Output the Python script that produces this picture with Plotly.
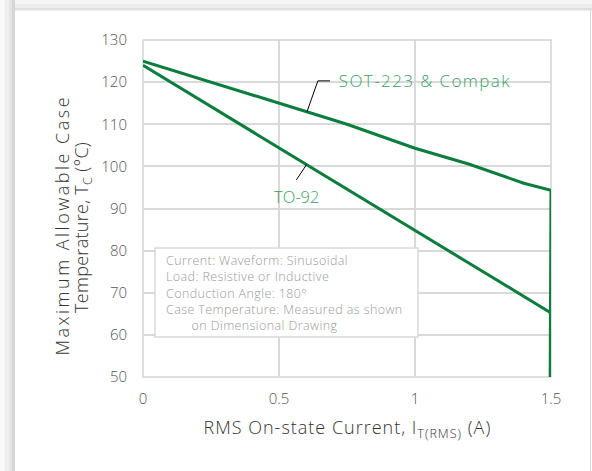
import plotly.graph_objects as go

# Data
sot_x = [0, 0.25, 0.5, 0.75, 1.0, 1.2, 1.4, 1.5, 1.497]
sot_y = [125, 120, 115.1, 110, 104.3, 100.5, 96, 94.3, 50]
to92_x = [0, 1.5, 1.499]
to92_y = [124, 65.2, 50]
x_ticks = [0, 0.5, 1, 1.5]
x_tick_labels = ["0", "0.5", "1", "1.5"]
y_ticks = [50, 60, 70, 80, 90, 100, 110, 120, 130]
notes = ["Current: Waveform: Sinusoidal", "Load: Resistive or Inductive",
         "Conduction Angle: 180°", "Case Temperature: Measured as shown",
         "\u00a0\u00a0\u00a0\u00a0\u00a0\u00a0\u00a0on Dimensional Drawing"]

GREEN = "#0b7d3c"
LABEL_GREEN = "#3c9f63"
FONT = "'Open Sans', sans-serif"
W, H = 592, 471
L, R, T, B = 143, 41, 40, 94

fig = go.Figure()
fig.add_trace(go.Scatter(x=sot_x, y=sot_y, mode="lines", line=dict(color=GREEN, width=3),
                         name="SOT-223 & Compak", showlegend=False, hoverinfo="skip"))
fig.add_trace(go.Scatter(x=to92_x, y=to92_y, mode="lines", line=dict(color=GREEN, width=3),
                         name="TO-92", showlegend=False, hoverinfo="skip"))

def px_x(p):
    return (p - L) / (W - L - R)

def px_y(p):
    return 1 - (p - T) / (H - T - B)

shapes = []
# page shadow strips (left and top)
left_strips = [(0, 5, "#f8f8f8"), (5, 9, "#efefef"), (9, 12, "#e4e4e4"), (12, 15, "#d6d6d6")]
for a, b, c in left_strips:
    shapes.append(dict(type="rect", xref="paper", yref="paper", x0=px_x(a), x1=px_x(b), y0=px_y(H + 5), y1=px_y(0),
                       fillcolor=c, line=dict(width=0), layer="above"))
top_strips = [(0, 4, "#f5f5f5"), (4, 8, "#ededed"), (8, 10.5, "#dedede")]
for a, b, c in top_strips:
    shapes.append(dict(type="rect", xref="paper", yref="paper", x0=px_x(15), x1=px_x(W + 5), y0=px_y(b), y1=px_y(a),
                       fillcolor=c, line=dict(width=0), layer="above"))
shapes.append(dict(type="line", xref="paper", yref="paper", x0=px_x(590.5), x1=px_x(590.5), y0=px_y(H + 5), y1=px_y(10.5),
                   line=dict(color="#d6d6d6", width=1), layer="above"))
# plot area border
shapes.append(dict(type="rect", xref="paper", yref="paper", x0=0, x1=1, y0=0, y1=1,
                   fillcolor="rgba(0,0,0,0)", line=dict(color="#d4d4d4", width=1.5), layer="below"))
# notes box
shapes.append(dict(type="rect", xref="paper", yref="paper", x0=px_x(155), x1=px_x(418), y0=px_y(337), y1=px_y(248),
                   fillcolor="white", line=dict(color="#d9d9d9", width=1.5), layer="above"))
# leader lines
shapes.append(dict(type="path", xref="x", yref="y", path="M 0.603,113 L 0.643,120.3 L 0.6875,120.3",
                   line=dict(color="black", width=1)))
shapes.append(dict(type="line", xref="x", yref="y", x0=0.601, y0=100.4, x1=0.564, y1=96.8,
                   line=dict(color="black", width=1)))

annotations = [
    dict(x=0.753, y=120.3, xref="x", yref="y", text="SOT-223 & Compak", showarrow=False,
         xanchor="left", yanchor="middle", font=dict(family=FONT, size=17, color=LABEL_GREEN, weight=300)),
    dict(x=0.565, y=92.9, xref="x", yref="y", text="TO-92", showarrow=False,
         xanchor="center", yanchor="middle", font=dict(family=FONT, size=16.5, color=LABEL_GREEN, weight=300)),
    dict(x=px_x(164), y=px_y(292.5), xref="paper", yref="paper", text="<br>".join(notes), showarrow=False,
         xanchor="left", yanchor="middle", align="left",
         font=dict(family=FONT, size=12.5, color="#9a9a9a", weight=300)),
    dict(x=px_x(62), y=px_y(225), xref="paper", yref="paper",
         text="Maximum Allowable Case", showarrow=False,
         textangle=-90, xanchor="center", yanchor="middle",
         font=dict(family=FONT, size=18, color="#333333", weight=300)),
    dict(x=px_x(82), y=px_y(228), xref="paper", yref="paper",
         text="Temperature, T<sub>C</sub> (°C)", showarrow=False,
         textangle=-90, xanchor="center", yanchor="middle",
         font=dict(family=FONT, size=18, color="#333333", weight=300)),
    dict(x=px_x(347), y=px_y(428), xref="paper", yref="paper",
         text="RMS On-state Current, I<sub>T(RMS)</sub> (A)", showarrow=False,
         xanchor="center", yanchor="middle", font=dict(family=FONT, size=18, color="#333333", weight=300)),
]

fig.update_layout(
    width=W, height=H,
    margin=dict(l=L, r=R, t=T, b=B),
    paper_bgcolor="#ffffff", plot_bgcolor="#ffffff",
    shapes=shapes, annotations=annotations,
    font=dict(family=FONT, color="#555555", weight=300),
)
fig.update_xaxes(range=[0, 1.5], tickvals=x_ticks, ticktext=x_tick_labels, showgrid=True,
                 gridcolor="#d9d9d9", gridwidth=1.5, zeroline=False, showline=False,
                 ticks="", tickfont=dict(size=15, color="#555555", weight=300), ticklabelstandoff=11)
fig.update_yaxes(range=[50, 130], tickvals=y_ticks, showgrid=True, gridcolor="#d9d9d9", gridwidth=1.5,
                 zeroline=False, showline=False, ticks="", tickfont=dict(size=15, color="#555555", weight=300),
                 ticklabelstandoff=15)

fig.write_html("out.html", config={"displayModeBar": False})
css = ("<style>html,body{margin:0;padding:0;overflow:hidden;background:#ffffff;}"
       "g.annotation[data-index='0'] text{letter-spacing:1.4px;}"
       "g.annotation[data-index='2'] text{letter-spacing:0.4px;}"
       "g.annotation[data-index='3'] text{letter-spacing:2.5px;}"
       "g.annotation[data-index='4'] text{letter-spacing:0.3px;}"
       "g.annotation[data-index='5'] text{letter-spacing:1px;}"
       "</style>")
with open("out.html", "r", encoding="utf-8") as f:
    html = f.read()
html = html.replace("<head>", "<head>" + css, 1)
with open("out.html", "w", encoding="utf-8") as f:
    f.write(html)
